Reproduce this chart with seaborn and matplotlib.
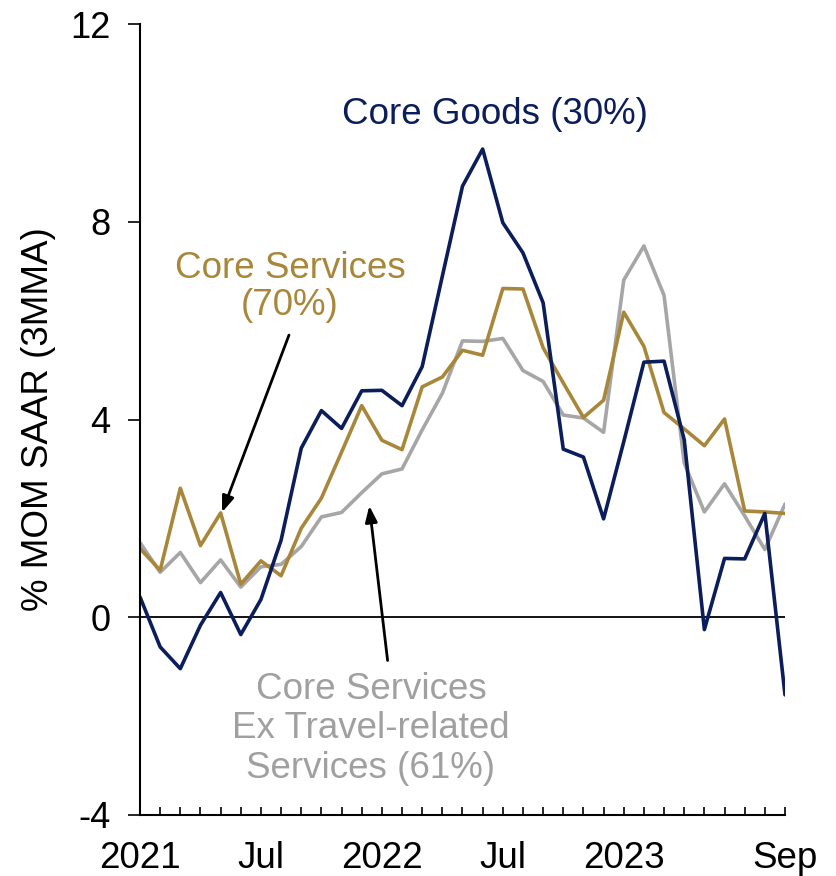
import matplotlib
matplotlib.use("Agg")
import matplotlib.pyplot as plt
from matplotlib import font_manager
import seaborn as sns
import pandas as pd

months = ["2021-01","2021-02","2021-03","2021-04","2021-05","2021-06","2021-07","2021-08","2021-09",
          "2021-10","2021-11","2021-12","2022-01","2022-02","2022-03","2022-04","2022-05","2022-06",
          "2022-07","2022-08","2022-09","2022-10","2022-11","2022-12","2023-01","2023-02","2023-03",
          "2023-04","2023-05","2023-06","2023-07","2023-08","2023-09"]
tick_labels = ["2021","","","","","","Jul","","","","","","2022","","","","","","Jul","","","","","",
               "2023","","","","","","","","Sep"]

core_goods = [0.41,-0.60,-1.04,-0.16,0.50,-0.35,0.36,1.56,3.42,4.18,3.82,4.58,4.59,4.28,5.07,6.90,
              8.72,9.47,7.98,7.37,6.36,3.40,3.24,1.99,3.55,5.16,5.18,3.59,-0.25,1.19,1.18,2.10,-1.57]
core_services = [1.39,0.95,2.61,1.45,2.11,0.67,1.14,0.84,1.80,2.41,3.34,4.28,3.58,3.39,4.66,4.86,
                 5.40,5.30,6.65,6.64,5.45,4.74,4.04,4.39,6.17,5.48,4.14,3.81,3.47,4.01,2.15,2.13,2.10]
ex_travel = [1.51,0.91,1.31,0.70,1.16,0.61,1.02,1.07,1.43,2.03,2.12,2.52,2.90,3.00,3.79,4.53,
             5.59,5.58,5.64,4.99,4.77,4.09,4.03,3.74,6.82,7.51,6.51,3.12,2.13,2.70,2.05,1.37,2.29]

NAVY = "#0B1D5B"
GOLD = "#A8873A"
GRAY = "#A6A6A6"
GRAY_TXT = "#A0A0A0"

sns.set_theme(style="white")
plt.rcParams["font.family"] = ["Liberation Sans", "DejaVu Sans"]
names = {f.name for f in font_manager.fontManager.ttflist}
narrow = "Liberation Sans Narrow" in names

fig = plt.figure(figsize=(8.37, 8.76), dpi=100)
ax = fig.add_axes([140/837, 61/876, 645/837, 791/876])

df = pd.DataFrame({"month": months, "goods": core_goods, "services": core_services, "extravel": ex_travel})
sns.lineplot(data=df, x="month", y="extravel", ax=ax, color=GRAY, lw=2.6, sort=False)
sns.lineplot(data=df, x="month", y="services", ax=ax, color=GOLD, lw=2.6, sort=False)
sns.lineplot(data=df, x="month", y="goods", ax=ax, color=NAVY, lw=2.6, sort=False)

ax.axhline(0, color="black", lw=1.3, zorder=1)
ax.set_xlim(0, len(months) - 1)
ax.set_ylim(-4, 12)
ax.set_yticks([-4, 0, 4, 8, 12])
ax.set_yticklabels(["-4", "0", "4", "8", "12"])
ax.set_xticks(range(len(months)))
if narrow:
    ax.set_xticklabels(tick_labels, fontsize=31, family="Liberation Sans Narrow")
else:
    ax.set_xticklabels(tick_labels, fontsize=26.5)
ax.tick_params(axis="x", bottom=True, direction="in", length=5.5, width=1.2, pad=19, colors="black")
ax.tick_params(axis="y", left=True, direction="out", length=8.5, width=1.2, pad=13, labelsize=26,
               colors="black")
for s in ["top", "right"]:
    ax.spines[s].set_visible(False)
for s in ["left", "bottom"]:
    ax.spines[s].set_color("black")
    ax.spines[s].set_linewidth(1.5)
ax.set_xlabel("")
ax.set_ylabel("% MOM SAAR (3MMA)", fontsize=26.5, color="black", labelpad=10)
ax.grid(False)

ax.text(17.6, 9.97, "Core Goods (30%)", color=NAVY, fontsize=26.5, ha="center", va="baseline")
ax.text(7.44, 6.68, "Core Services\n(70%)", color=GOLD, fontsize=26.5, ha="center", va="center",
        linespacing=1.1)
ax.text(11.46, -2.26, "Core Services\nEx Travel-related\nServices (61%)", color=GRAY_TXT, fontsize=26.5,
        ha="center", va="center", linespacing=1.15)

arrow = dict(arrowstyle="-|>,head_length=0.8,head_width=0.3", color="black", lw=2)
ax.annotate("", xy=(4.02, 2.07), xytext=(7.44, 5.76), arrowprops=arrow)
ax.annotate("", xy=(11.36, 2.31), xytext=(12.3, -0.93), arrowprops=arrow)

fig.savefig("out.png", dpi=100)
